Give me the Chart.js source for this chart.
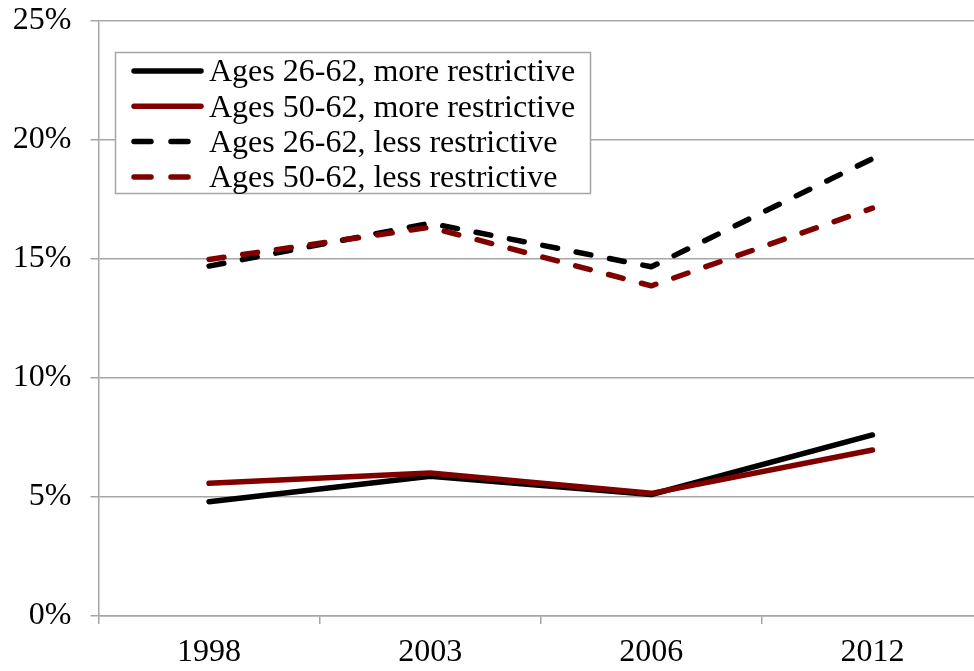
<!DOCTYPE html>
<html>
<head>
<meta charset="utf-8">
<title>Share of population by restrictiveness and age</title>
<script src="https://cdn.jsdelivr.net/npm/chart.js@4.4.1/dist/chart.umd.min.js"></script>
<style>
  html, body { margin: 0; padding: 0; background: #ffffff; overflow: hidden; }
  #wrap { position: relative; width: 974px; height: 671px; overflow: hidden; }
  #chart { position: absolute; left: 0; top: 0; }
</style>
</head>
<body>
<div id="wrap"><canvas id="chart" width="983" height="671"></canvas></div>
<script>
// Survey years on the category axis
const years = ['1998', '2003', '2006', '2012'];

// Percentages by group and definition
const ages26MoreRestrictive = [4.80, 5.87, 5.10, 7.60];
const ages50MoreRestrictive = [5.57, 6.00, 5.15, 6.97];
const ages26LessRestrictive = [14.69, 16.49, 14.66, 19.20];
const ages50LessRestrictive = [14.97, 16.32, 13.86, 17.12];

// Value-axis ticks
const yTicks = [0, 5, 10, 15, 20, 25];

const seriesLabels = [
  'Ages 26-62, more restrictive',
  'Ages 50-62, more restrictive',
  'Ages 26-62, less restrictive',
  'Ages 50-62, less restrictive'
];

const BLACK = '#000000';
const MAROON = '#800000';
const GRID = '#a6a6a6';
const SERIF = '"Liberation Serif", "Times New Roman", serif';

function lineSet(label, data, color, dashed, order) {
  return {
    label: label,
    data: data,
    borderColor: color,
    backgroundColor: color,
    borderWidth: 5.5,
    borderDash: dashed ? [15, 19] : [],
    borderCapStyle: 'round',
    borderJoinStyle: 'round',
    pointRadius: 0,
    pointHoverRadius: 0,
    tension: 0,
    fill: false,
    order: order
  };
}

// Framed legend drawn in the upper-left of the plot
const boxedLegend = {
  id: 'boxedLegend',
  afterDraw(chart) {
    const ctx = chart.ctx;
    const x0 = 115.5, y0 = 52.5, w = 475, h = 141;
    ctx.save();
    ctx.fillStyle = '#ffffff';
    ctx.fillRect(x0, y0, w, h);
    ctx.strokeStyle = GRID;
    ctx.lineWidth = 1.5;
    ctx.strokeRect(x0, y0, w, h);
    ctx.font = '32px ' + SERIF;
    ctx.textBaseline = 'middle';
    ctx.textAlign = 'left';
    chart.data.datasets.forEach((ds, i) => {
      const y = 71 + i * 35.3;
      ctx.beginPath();
      ctx.strokeStyle = ds.borderColor;
      ctx.lineWidth = ds.borderWidth;
      ctx.lineCap = 'round';
      ctx.setLineDash(ds.borderDash.length ? [17, 20] : []);
      ctx.lineDashOffset = 0;
      ctx.moveTo(134, y);
      ctx.lineTo(201, y);
      ctx.stroke();
      ctx.setLineDash([]);
      ctx.fillStyle = '#000000';
      ctx.fillText(ds.label, 209, y + 2);
    });
    ctx.restore();
  }
};

new Chart(document.getElementById('chart'), {
  type: 'line',
  data: {
    labels: years,
    datasets: [
      lineSet(seriesLabels[0], ages26MoreRestrictive, BLACK, false, 4),
      lineSet(seriesLabels[1], ages50MoreRestrictive, MAROON, false, 2),
      lineSet(seriesLabels[2], ages26LessRestrictive, BLACK, true, 3),
      lineSet(seriesLabels[3], ages50LessRestrictive, MAROON, true, 1)
    ]
  },
  options: {
    responsive: false,
    animation: false,
    devicePixelRatio: 1,
    layout: { padding: { top: 20.5, right: 0, left: 0, bottom: 0 } },
    plugins: {
      legend: { display: false },
      tooltip: { enabled: false }
    },
    scales: {
      x: {
        type: 'category',
        offset: true,
        grid: {
          offset: true,
          drawOnChartArea: false,
          drawTicks: true,
          tickLength: 8,
          color: GRID,
          lineWidth: 1.5
        },
        border: { display: true, color: GRID, width: 1.5 },
        ticks: {
          color: '#000000',
          font: { family: SERIF, size: 32 },
          padding: 9,
          maxRotation: 0
        },
        afterFit(scale) {
          scale.height = 55;
          scale.paddingLeft = 0;
          scale.paddingRight = 0;
        }
      },
      y: {
        min: 0,
        max: 25,
        afterBuildTicks(scale) {
          scale.ticks = yTicks.map(v => ({ value: v }));
        },
        grid: {
          color: GRID,
          lineWidth: 1.5,
          drawTicks: true,
          tickLength: 8
        },
        border: { display: true, color: GRID, width: 1.5 },
        ticks: {
          color: '#000000',
          font: { family: SERIF, size: 32 },
          padding: 19,
          callback: v => v + '%'
        },
        afterFit(scale) {
          scale.width = 98.5;
          scale.paddingTop = 0;
          scale.paddingBottom = 0;
        }
      }
    }
  },
  plugins: [boxedLegend]
});
</script>
</body>
</html>
